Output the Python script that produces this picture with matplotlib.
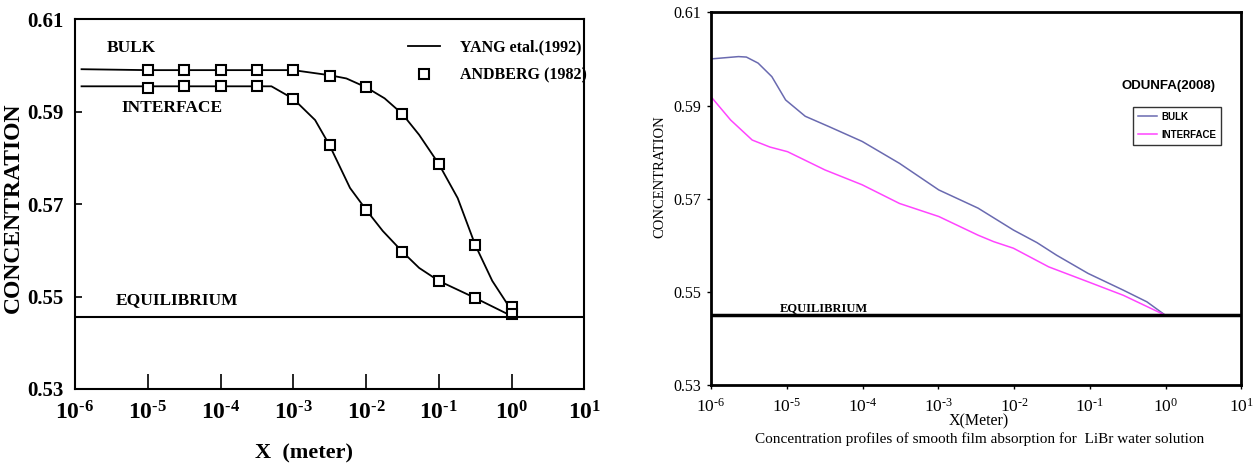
import numpy as np
import matplotlib
matplotlib.use("Agg")
import matplotlib.pyplot as plt

plt.rcParams['mathtext.fontset'] = 'custom'
plt.rcParams['mathtext.rm'] = 'Liberation Serif'
plt.rcParams['mathtext.bf'] = 'Liberation Serif:bold'
plt.rcParams['mathtext.it'] = 'Liberation Serif:italic'
plt.rcParams['font.family'] = 'Liberation Serif'

# ---------------- data: left panel (YANG / ANDBERG) ----------------
marker_logx = [-5, -4.5, -4, -3.5, -3, -2.5, -2, -1.5, -1, -0.5, 0]
andberg_bulk = [0.5990, 0.5990, 0.5990, 0.5990, 0.5990, 0.5978, 0.5953, 0.5895, 0.5787, 0.5612, 0.5478]
andberg_interface = [0.5952, 0.5955, 0.5955, 0.5955, 0.5928, 0.5827, 0.5688, 0.5597, 0.5534, 0.5497, 0.5462]

yang_bulk_logx = [-5.91, -5, -4.5, -4, -3.5, -3, -2.5, -2.27, -2, -1.745, -1.5, -1.27, -1, -0.74, -0.5, -0.265, 0]
yang_bulk = [0.5992, 0.5990, 0.5990, 0.5990, 0.5990, 0.5990, 0.5979, 0.5972, 0.5953, 0.5929, 0.5895, 0.5850,
             0.5787, 0.5713, 0.5612, 0.5534, 0.5470]
yang_int_logx = [-5.91, -5, -4.5, -4, -3.5, -3.30, -3, -2.70, -2.5, -2.22, -2, -1.77, -1.5, -1.27, -1, -0.5, 0]
yang_interface = [0.5955, 0.5955, 0.5955, 0.5955, 0.5955, 0.5955, 0.5928, 0.5882, 0.5827, 0.5735, 0.5688,
                  0.5642, 0.5597, 0.5562, 0.5534, 0.5497, 0.5458]
equilibrium_left = 0.5455

left_yticks = [0.53, 0.55, 0.57, 0.59, 0.61]
left_yticklabels = ['0.53', '0.55', '0.57', '0.59', '0.61']
xtick_exps = [-6, -5, -4, -3, -2, -1, 0, 1]

# ---------------- data: right panel (ODUNFA 2008) ----------------
odunfa_bulk_logx = [-6, -5.637, -5.533, -5.378, -5.197, -5.015, -4.756, -4.445, -4.004, -3.512, -2.993,
                    -2.475, -2.008, -1.697, -1.438, -1.023, -0.557, -0.246, 0]
odunfa_bulk = [0.6000, 0.6005, 0.6004, 0.5991, 0.5962, 0.5912, 0.5877, 0.5855, 0.5823, 0.5776, 0.5719,
               0.5680, 0.5633, 0.5606, 0.5579, 0.5540, 0.5504, 0.5479, 0.5450]
odunfa_int_logx = [-6, -5.741, -5.456, -5.222, -4.989, -4.497, -4.004, -3.512, -2.993, -2.475, -2.267,
                   -2.008, -1.542, -1.023, -0.557, 0]
odunfa_interface = [0.5919, 0.5869, 0.5826, 0.5811, 0.5801, 0.5762, 0.5730, 0.5690, 0.5662, 0.5622, 0.5608,
                    0.5594, 0.5554, 0.5522, 0.5493, 0.5450]
equilibrium_right = 0.545
right_yticks = [0.53, 0.55, 0.57, 0.59, 0.61]
right_yticklabels = ['0.53', '0.55', '0.57', '0.59', '0.61']

W, H = 1257, 467
fig = plt.figure(figsize=(W / 100, H / 100), dpi=100)

def fx(px):
    return px / W

def fy(py):
    return 1 - py / H

def exp_label(e, bold):
    s = str(e).replace('-', '\u2010')
    if bold:
        return r'$\mathbf{10^{%s}}$' % s
    return r'$\mathrm{10^{%s}}$' % s

# ================= LEFT PANEL =================
axL = fig.add_axes([fx(75), fy(389), fx(584.3 - 75), fy(19.3) - fy(389)])
axL.set_xscale('log')
axL.set_xlim(1e-6, 1e1)
axL.set_ylim(0.53, 0.61)

xb = 10.0 ** np.array(yang_bulk_logx)
xi = 10.0 ** np.array(yang_int_logx)
xm = 10.0 ** np.array(marker_logx)
axL.plot(xb, yang_bulk, color='black', lw=1.3, label='YANG etal.(1992)')
axL.plot(xi, yang_interface, color='black', lw=1.3)
axL.plot(xm, andberg_bulk, ls='none', marker='s', ms=7, mfc='white', mec='black', mew=1.5,
         label='ANDBERG (1982)')
axL.plot(xm, andberg_interface, ls='none', marker='s', ms=7, mfc='white', mec='black', mew=1.5)
axL.axhline(equilibrium_left, color='black', lw=1.5)

axL.set_yticks(left_yticks)
axL.set_yticklabels(left_yticklabels, fontsize=15, fontweight='bold')
axL.set_xticks([10.0 ** e for e in xtick_exps])
axL.set_xticklabels([exp_label(e, True) for e in xtick_exps], fontsize=17)
axL.minorticks_off()
axL.tick_params(axis='x', direction='in', length=11, width=1.2, pad=9)
axL.tick_params(axis='y', direction='in', length=5, width=1.2, pad=8)
for s in axL.spines.values():
    s.set_linewidth(1.5)

axL.text(fx(107), fy(48), 'BULK', transform=fig.transFigure, fontsize=12.5, fontweight='bold',
         va='center', ha='left')
axL.text(fx(121), fy(108), 'INTERFACE', transform=fig.transFigure, fontsize=12.5, fontweight='bold',
         va='center', ha='left')
axL.text(fx(116), fy(300), 'EQUILIBRIUM', transform=fig.transFigure, fontsize=12.5, fontweight='bold',
         va='center', ha='left')

legL = axL.legend(loc='upper left', bbox_to_anchor=(fx(402), fy(33)), bbox_transform=fig.transFigure,
                  frameon=False, prop={'family': 'Liberation Serif', 'weight': 'bold', 'size': 11.5},
                  handlelength=2.0, handletextpad=1.2, labelspacing=0.75, borderaxespad=0)

fig.text(fx(13), fy(208), 'CONCENTRATION', rotation=90, fontsize=17, fontweight='bold',
         ha='center', va='center')
fig.text(fx(304), fy(453), 'X  (meter)', fontsize=16, fontweight='bold', ha='center', va='center')

# ================= RIGHT PANEL =================
axR = fig.add_axes([fx(711), fy(385.3), fx(1241.3 - 711), fy(12.3) - fy(385.3)])
axR.set_xscale('log')
axR.set_xlim(1e-6, 1e1)
axR.set_ylim(0.53, 0.61)

axR.plot(10.0 ** np.array(odunfa_bulk_logx), odunfa_bulk, color='#6a6ab0', lw=1.1, label='BULK')
axR.plot(10.0 ** np.array(odunfa_int_logx), odunfa_interface, color='#ff44ff', lw=1.1, label='INTERFACE')
axR.axhline(equilibrium_right, color='black', lw=2.5)

axR.set_yticks(right_yticks)
axR.set_yticklabels(right_yticklabels, fontsize=11.5)
axR.set_xticks([10.0 ** e for e in xtick_exps])
axR.set_xticklabels([exp_label(e, False) for e in xtick_exps], fontsize=12.5)
axR.minorticks_off()
axR.tick_params(axis='both', direction='out', length=3, width=1, pad=4)
axR.tick_params(axis='x', pad=6)
for s in axR.spines.values():
    s.set_linewidth(2)

axR.text(fx(780), fy(308), 'EQUILIBRIUM', transform=fig.transFigure, fontsize=9, fontweight='bold',
         va='center', ha='left')
axR.text(fx(1122), fy(86), 'ODUNFA(2008)', transform=fig.transFigure, family='Liberation Sans',
         fontsize=9.5, fontweight='bold', va='center', ha='left')

legR = axR.legend(loc='upper left', bbox_to_anchor=(fx(1133), fy(107)), bbox_transform=fig.transFigure,
                  frameon=True, fancybox=False, edgecolor='black',
                  prop={'family': 'Liberation Sans', 'weight': 'bold', 'size': 7},
                  handlelength=2.0, handletextpad=0.4, labelspacing=0.8, borderaxespad=0,
                  borderpad=0.5)
legR.get_frame().set_linewidth(1.0)

fig.text(fx(660), fy(177), 'CONCENTRATION', rotation=90, fontsize=10.5, ha='center', va='center')
fig.text(fx(979), fy(421.5), 'X(Meter)', fontsize=11.5, ha='center', va='center')
fig.text(fx(980), fy(439), 'Concentration profiles of smooth film absorption for  LiBr water solution',
         fontsize=11, ha='center', va='center')

fig.savefig('out.png', dpi=100)
